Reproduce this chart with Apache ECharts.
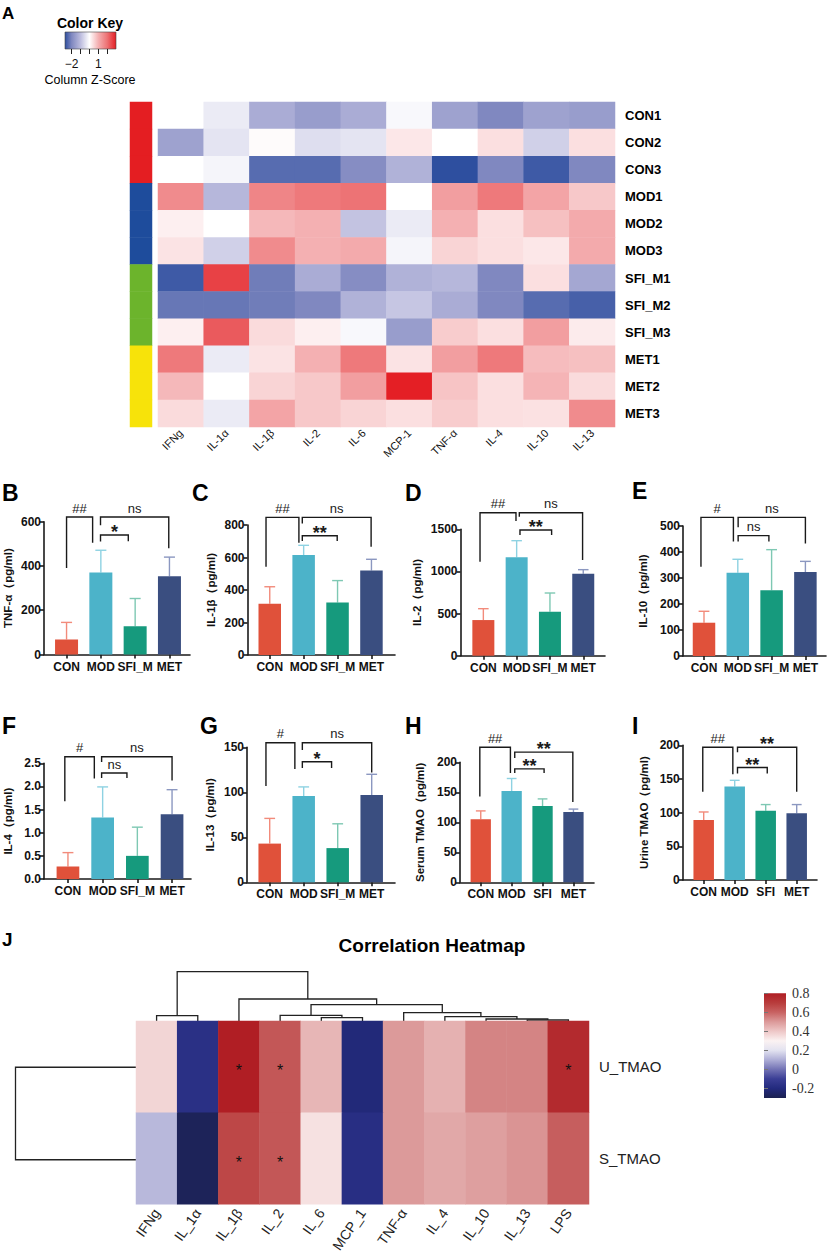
<!DOCTYPE html>
<html>
<head>
<meta charset="utf-8">
<title>Cytokines and TMAO</title>
<script src="https://cdn.jsdelivr.net/npm/echarts@6/dist/echarts.min.js"></script>
<style>
  html, body { margin: 0; padding: 0; background: #fff; }
  #main { width: 830px; height: 1255px; }
</style>
</head>
<body>
<div id="main"></div>
<script>
// ---- A: column z-score heatmap ----
const sampleNames = ['CON1', 'CON2', 'CON3', 'MOD1', 'MOD2', 'MOD3', 'SFI_M1', 'SFI_M2', 'SFI_M3', 'MET1', 'MET2', 'MET3'];
const sampleGroup = [0, 0, 0, 1, 1, 1, 2, 2, 2, 3, 3, 3];
const cytokinesA = ['IFNg', 'IL-1α', 'IL-1β', 'IL-2', 'IL-6', 'MCP-1', 'TNF-α', 'IL-4', 'IL-10', 'IL-13'];
const zScores = [
  [0, -0.3, -1.3, -1.6, -1.3, -0.1, -1.5, -2.0, -1.5, -1.6],
  [-1.5, -0.4, 0.05, -0.5, -0.4, 0.3, 0, 0.4, -0.7, 0.4],
  [0, -0.15, -2.5, -2.5, -1.9, -1.2, -3.0, -2.0, -2.8, -2.0],
  [1.6, -1.1, 1.7, 1.9, 2.0, 0, 1.3, 1.9, 1.2, 0.7],
  [0.2, 0, 0.9, 1.0, -0.9, -0.3, 1.0, 0.4, 0.8, 1.1],
  [0.35, -0.7, 1.6, 1.0, 1.1, -0.15, 0.55, 0.4, 0.3, 1.1],
  [-2.8, 2.6, -2.2, -1.3, -1.9, -1.2, -1.1, -2.0, 0.4, -1.4],
  [-2.3, -2.3, -2.2, -2.0, -1.2, -0.85, -1.3, -2.0, -2.5, -2.7],
  [0.2, 2.3, 0.45, 0.2, -0.1, -1.6, 0.65, 0.4, 1.3, 0.25],
  [1.9, -0.3, 0.35, 1.0, 1.9, 0.35, 1.3, 1.9, 0.85, 0.8],
  [0.9, 0, 0.55, 0.7, 1.3, 3.0, 0.75, 0.4, 0.95, 0.45],
  [0.45, -0.3, 1.2, 0.7, 0.55, 0.4, 0.65, 0.4, 0.38, 1.6]
];
const keyTicks = [-2, -1, 0, 1, 2];
const keyLabels = [-2, 1];

// ---- B-I: bar charts (mean, SD) ----
const groupLabels = ['CON', 'MOD', 'SFI_M', 'MET'];
const tmaoLabels = ['CON', 'MOD', 'SFI', 'MET'];
const tnfMean = [68, 370, 128, 354];
const tnfSd = [77, 101, 125, 86];
const il1bMean = [316, 615, 323, 520];
const il1bSd = [104, 60, 135, 69];
const il2Mean = [423, 1168, 522, 973];
const il2Sd = [135, 197, 222, 48];
const il10Mean = [128, 320, 253, 323];
const il10Sd = [44, 52, 156, 41];
const il4Mean = [0.27, 1.33, 0.50, 1.40];
const il4Sd = [0.30, 0.66, 0.62, 0.53];
const il13Mean = [43, 96, 38, 97];
const il13Sd = [28, 10, 27, 23];
const serumMean = [105, 152, 127, 117];
const serumSd = [14, 21, 12, 5];
const urineMean = [89, 139, 103, 99];
const urineSd = [12, 9, 9, 13];

// brackets: [from, to, top, left end, right end, label]
const tnfBrackets = [[0, 0.76, 621, 391, 505, '##'], [0.99, 2.98, 621, 584, 480, 'ns'], [0.99, 1.8, 540, 510, 512, '*']];
const il1bBrackets = [[-0.11, 0.86, 847, 543, 691, '##'], [0.96, 2.99, 847, 810, 666, 'ns'], [0.96, 1.99, 734, 701, 701, '**']];
const il2Brackets = [[-0.1, 0.98, 1697, 1115, 1598, '##'], [1.08, 2.98, 1697, 1650, 1136, 'ns'], [1.1, 2.05, 1492, 1432, 1432, '**']];
const il10Brackets = [[-0.09, 0.87, 533, 343, 440, '#'], [1.01, 3.0, 533, 495, 433, 'ns'], [1.01, 1.92, 463, 440, 440, 'ns']];
const il4Brackets = [[-0.09, 0.76, 2.64, 1.68, 2.17, '#'], [0.97, 3.0, 2.64, 2.53, 2.13, 'ns'], [0.97, 1.7, 2.29, 2.18, 2.18, 'ns']];
const il13Brackets = [[-0.11, 0.74, 155, 107, 126, '#'], [0.96, 3.0, 155, 147, 122, 'ns'], [0.96, 1.82, 134, 127, 127, '*']];
const serumBrackets = [[-0.03, 0.96, 225, 143, 182, '##'], [1.1, 2.98, 217, 207, 134, '**'], [1.1, 2.05, 189, 182, 182, '**']];
const urineBrackets = [[-0.03, 0.94, 197, 131, 157, '##'], [1.09, 3.0, 197, 189.5, 131, '**'], [1.09, 2.05, 167, 158, 158, '**']];

// ---- J: correlation heatmap ----
const corrCols = ['IFNg', 'IL_1α', 'IL_1β', 'IL_2', 'IL_6', 'MCP_1', 'TNF-α', 'IL_4', 'IL_10', 'IL_13', 'LPS'];
const corrRows = ['U_TMAO', 'S_TMAO'];
const corrU = [0.37, -0.17, 0.8, 0.63, 0.44, -0.21, 0.5, 0.45, 0.54, 0.54, 0.76];
const corrS = [0.12, -0.28, 0.67, 0.63, 0.34, -0.18, 0.5, 0.47, 0.49, 0.51, 0.61];
const starsU = [0, 0, 1, 1, 0, 0, 0, 0, 0, 0, 1];
const starsS = [0, 0, 1, 1, 0, 0, 0, 0, 0, 0, 0];
// dendrogram merges: [a, b, height], a/b >= 0 leaf, < 0 earlier merge -(k+1)
const corrColMerges = [[0, 1, 5.3], [4, 5, 3.3], [3, -2, 5.7], [9, 10, 1.0], [8, -4, 2.0], [7, -5, 4.3], [6, -6, 8.3], [-3, -7, 16.3], [2, -8, 22], [-1, -9, 49.3]];
const corrRowMerges = [[0, 1, 120.5]];
const corrTicks = [-0.2, 0, 0.2, 0.4, 0.6, 0.8];

const FONT = '"Liberation Sans", Arial, sans-serif';
const zColors = ['#2e4f9f', '#8088c0', '#bcbcde', '#ffffff', '#f4b0b2', '#ed7375', '#e41f25'];
const groupColors = ['#e41e22', '#1e4c9c', '#6cb42c', '#f7e30a'];
const corrColors = ['#1b2150', '#232a7e', '#3a3e95', '#7272b4', '#adadd6', '#e2e2f0', '#fbf2f2', '#eec8c8', '#dc9a9a', '#c86262', '#b83c3c', '#b01e24'];
const barColors = ['#e0513a', '#4cb3c9', '#169a7d', '#3a4e80'];
const errColors = ['#f28b7b', '#8ed2e2', '#7ec8b3', '#8b97c0'];
const ink = '#1a1a1a';

const grids = [], xAxes = [], yAxes = [], series = [], visualMaps = [], graphics = [];

function addGrid(g, xa, ya) {
  grids.push(g);
  const gi = grids.length - 1;
  xAxes.push(Object.assign({ gridIndex: gi }, xa));
  yAxes.push(Object.assign({ gridIndex: gi }, ya));
  return xAxes.length - 1;
}
function text(x, y, str, style) {
  graphics.push({ type: 'text', x: x, y: y, silent: true,
    style: Object.assign({ text: str, fontFamily: FONT, fill: '#000', align: 'left', verticalAlign: 'middle' }, style) });
}
const hidden = { show: false };

// ---------- A ----------
let ax = addGrid({ left: 158, top: 102, width: 457, height: 325 },
  { type: 'category', data: cytokinesA, axisLine: hidden, axisTick: hidden,
    axisLabel: { rotate: 45, interval: 0, fontSize: 11, color: '#111', margin: 4 } },
  { type: 'category', data: sampleNames, inverse: true, position: 'right', axisLine: hidden, axisTick: hidden,
    axisLabel: { fontWeight: 'bold', fontSize: 13, color: '#000', margin: 10 } });
const dataA = [];
zScores.forEach((row, r) => row.forEach((z, c) => dataA.push([c, r, z])));
series.push({ type: 'heatmap', xAxisIndex: ax, yAxisIndex: ax, data: dataA, silent: true });
visualMaps.push({ type: 'continuous', show: false, seriesIndex: series.length - 1, min: -3, max: 3, inRange: { color: zColors } });

ax = addGrid({ left: 130, top: 102, width: 22, height: 325 },
  { type: 'category', data: ['group'], show: false },
  { type: 'category', data: sampleNames, inverse: true, show: false });
series.push({ type: 'heatmap', xAxisIndex: ax, yAxisIndex: ax, silent: true,
  data: sampleGroup.map((g, r) => [0, r, g]) });
visualMaps.push({ type: 'piecewise', show: false, seriesIndex: series.length - 1,
  pieces: groupColors.map((c, i) => ({ value: i, color: c })) });

// colour key
addGrid({ left: 65, top: 32, width: 51, height: 17 },
  { type: 'value', min: -2.75, max: 3, axisLine: hidden, splitLine: hidden,
    axisTick: { show: true, customValues: keyTicks, length: 5, lineStyle: { color: '#222', width: 1 } },
    axisLabel: { customValues: keyLabels, fontSize: 12, color: '#111', margin: 9,
      formatter: v => (v < 0 ? '\u2212' + Math.abs(v) : String(v)) } },
  { type: 'value', min: 0, max: 1, show: false });
graphics.push({ type: 'rect', silent: true, shape: { x: 65, y: 32, width: 51, height: 17 },
  style: { stroke: '#444', lineWidth: 0.6,
    fill: new echarts.graphic.LinearGradient(0, 0, 1, 0,
      zColors.map((c, k) => ({ offset: Math.min(1, Math.max(0, (k - 3 + 2.75) / 5.75)), color: c }))) } });
text(90, 23, 'Color Key', { fontSize: 14, fontWeight: 'bold', align: 'center' });
text(90, 80, 'Column Z-Score', { fontSize: 12.5, align: 'center' });
text(2, 13, 'A', { fontSize: 17, fontWeight: 'bold' });

// ---------- B-I ----------
function errRenderer(capW) {
  return function (params, api) {
    const i = api.value(0);
    const b = api.coord([i, api.value(1)]);
    const t = api.coord([i, api.value(1) + api.value(2)]);
    const st = { stroke: errColors[i], lineWidth: 1.4 };
    return { type: 'group', children: [
      { type: 'line', shape: { x1: b[0], y1: b[1], x2: t[0], y2: t[1] }, style: st },
      { type: 'line', shape: { x1: t[0] - capW / 2, y1: t[1], x2: t[0] + capW / 2, y2: t[1] }, style: st }
    ] };
  };
}
function bracketRenderer(list) {
  return function (params, api) {
    const b = list[params.dataIndex];
    const c0 = api.coord([0, 0]), c1 = api.coord([1, 0]);
    const X = v => c0[0] + v * (c1[0] - c0[0]);
    const Y = v => api.coord([0, v])[1];
    const xa = X(b[0]), xb = X(b[1]), yt = Y(b[2]);
    const star = b[5].indexOf('*') >= 0;
    return { type: 'group', children: [
      { type: 'polyline', shape: { points: [[xa, Y(b[3])], [xa, yt], [xb, yt], [xb, Y(b[4])]] },
        style: { stroke: ink, lineWidth: 1.4, fill: null } },
      { type: 'text', x: (xa + xb) / 2, y: yt - (star ? 3 : 9),
        style: { text: b[5], fontFamily: FONT, fontSize: star ? 18 : 13, fontWeight: star ? 'bold' : 'normal',
          fill: ink, align: 'center', verticalAlign: 'middle' } }
    ] };
  };
}

const panels = [
  { letter: 'B', name: 'TNF-α\uff08pg/ml)', cats: groupLabels, mean: tnfMean, sd: tnfSd, max: 600, step: 200, brackets: tnfBrackets },
  { letter: 'C', name: 'IL-1β\uff08pg/ml)', cats: groupLabels, mean: il1bMean, sd: il1bSd, max: 800, step: 200, brackets: il1bBrackets },
  { letter: 'D', name: 'IL-2\uff08pg/ml)', cats: groupLabels, mean: il2Mean, sd: il2Sd, max: 1500, step: 500, brackets: il2Brackets },
  { letter: 'E', name: 'IL-10\uff08pg/ml)', cats: groupLabels, mean: il10Mean, sd: il10Sd, max: 500, step: 100, brackets: il10Brackets },
  { letter: 'F', name: 'IL-4\uff08pg/ml)', cats: groupLabels, mean: il4Mean, sd: il4Sd, max: 2.5, step: 0.5, brackets: il4Brackets, dec: 1 },
  { letter: 'G', name: 'IL-13\uff08pg/ml)', cats: groupLabels, mean: il13Mean, sd: il13Sd, max: 150, step: 50, brackets: il13Brackets },
  { letter: 'H', name: 'Serum TMAO\uff08pg/ml)', cats: tmaoLabels, mean: serumMean, sd: serumSd, max: 200, step: 50, brackets: serumBrackets },
  { letter: 'I', name: 'Urine TMAO\uff08pg/ml)', cats: tmaoLabels, mean: urineMean, sd: urineSd, max: 200, step: 50, brackets: urineBrackets }
];
// pixel layout of each panel
const layouts = {
  B: { axisX: 44, top: 521.7, zero: 654.5, catStart: 49.4, catW: 34.3, xEnd: 190, barW: 23, nameGap: 30, lx: 2, ly: 493 },
  C: { axisX: 247.5, top: 525, zero: 655, catStart: 252.8, catW: 33.9, xEnd: 395, barW: 22.5, nameGap: 31, lx: 192, ly: 493 },
  D: { axisX: 460.5, top: 529.3, zero: 655.7, catStart: 466.7, catW: 33.3, xEnd: 605, barW: 22, nameGap: 38, lx: 405, ly: 493 },
  E: { axisX: 683, top: 526, zero: 656, catStart: 687.1, catW: 33.8, xEnd: 826, barW: 22.5, nameGap: 34, lx: 632, ly: 491 },
  F: { axisX: 44, top: 763.3, zero: 879, catStart: 50.6, catW: 34.7, xEnd: 191, barW: 22.7, nameGap: 30, lx: 2, ly: 726 },
  G: { axisX: 247, top: 747.3, zero: 882.3, catStart: 252.7, catW: 34, xEnd: 395, barW: 22.5, nameGap: 31, lx: 200, ly: 726 },
  H: { axisX: 460, top: 762.3, zero: 882.3, catStart: 465.3, catW: 30.9, xEnd: 594, barW: 20.3, nameGap: 34, lx: 405, ly: 726 },
  I: { axisX: 682.7, top: 745.3, zero: 880, catStart: 688.2, catW: 31, xEnd: 817, barW: 20.5, nameGap: 33, lx: 632, ly: 726 }
};

const axisLineStyle = { color: ink, width: 1.6 };
const boldLabel = { fontWeight: 'bold', fontSize: 12, color: '#111' };

panels.forEach(p => {
  const L = layouts[p.letter];
  const h = L.zero - L.top;
  // frame: y axis with ticks and full-width x axis line
  addGrid({ left: L.axisX, top: L.top, width: L.xEnd - L.axisX, height: h },
    { type: 'value', min: 0, max: 1, axisLine: { show: true, lineStyle: axisLineStyle },
      axisTick: hidden, axisLabel: hidden, splitLine: hidden },
    { type: 'value', min: 0, max: p.max, interval: p.step,
      axisLine: { show: true, lineStyle: axisLineStyle },
      axisTick: { show: true, length: 4, lineStyle: axisLineStyle },
      axisLabel: Object.assign({ margin: 3, formatter: v => (p.dec ? v.toFixed(p.dec) : String(v)) }, boldLabel),
      splitLine: hidden,
      name: p.name, nameLocation: 'middle', nameGap: L.nameGap,
      nameTextStyle: { fontWeight: 'bold', fontSize: 11.5, color: '#111', fontFamily: FONT } });
  // plot area: categories, bars, error bars, brackets
  const pa = addGrid({ left: L.catStart, top: L.top, width: L.catW * 4, height: h },
    { type: 'category', data: p.cats, axisLine: hidden,
      axisTick: { show: true, alignWithLabel: true, length: 4, lineStyle: axisLineStyle },
      axisLabel: Object.assign({ margin: 6, interval: 0 }, boldLabel) },
    { type: 'value', min: 0, max: p.max, show: false });
  series.push({ type: 'bar', xAxisIndex: pa, yAxisIndex: pa, barWidth: L.barW, silent: true, z: 3,
    data: p.mean.map((v, i) => ({ value: v, itemStyle: { color: barColors[i] } })) });
  series.push({ type: 'custom', xAxisIndex: pa, yAxisIndex: pa, silent: true, z: 2,
    renderItem: errRenderer(L.barW * 0.48),
    data: p.mean.map((m, i) => [i, m, p.sd[i]]) });
  series.push({ type: 'custom', xAxisIndex: pa, yAxisIndex: pa, silent: true, z: 4,
    renderItem: bracketRenderer(p.brackets),
    data: p.brackets.map(b => [0, b[2]]) });
  text(L.lx, L.ly, p.letter, { fontSize: 23, fontWeight: 'bold' });
});

// ---------- J ----------
function dendroSegments(merges) {
  const nodes = [];
  const get = k => (k >= 0 ? { pos: k, h: 0 } : nodes[-k - 1]);
  return merges.map(m => {
    const a = get(m[0]), b = get(m[1]), hh = m[2];
    nodes.push({ pos: (a.pos + b.pos) / 2, h: hh });
    return [[a.pos, a.h], [a.pos, hh], [b.pos, hh], [b.pos, b.h]];
  });
}
const dendroStyle = { color: '#222', width: 1.3, opacity: 1 };

ax = addGrid({ left: 136, top: 960, width: 453, height: 61 },
  { type: 'value', min: -0.5, max: corrCols.length - 0.5, show: false },
  { type: 'value', min: 0, max: 61, show: false });
series.push({ type: 'lines', coordinateSystem: 'cartesian2d', xAxisIndex: ax, yAxisIndex: ax, polyline: true, silent: true,
  lineStyle: dendroStyle, data: dendroSegments(corrColMerges).map(c => ({ coords: c })) });

ax = addGrid({ left: 15, top: 1021, width: 121, height: 185 },
  { type: 'value', min: 0, max: 121, inverse: true, show: false },
  { type: 'value', min: -0.5, max: 1.5, inverse: true, show: false });
series.push({ type: 'lines', coordinateSystem: 'cartesian2d', xAxisIndex: ax, yAxisIndex: ax, polyline: true, silent: true,
  lineStyle: dendroStyle,
  data: dendroSegments(corrRowMerges).map(c => ({ coords: c.map(pt => [pt[1], pt[0]]) })) });

ax = addGrid({ left: 136, top: 1021, width: 453, height: 185 },
  { type: 'category', data: corrCols, axisLine: hidden, axisTick: hidden,
    axisLabel: { rotate: 55, interval: 0, fontSize: 14, color: '#222', margin: 6 } },
  { type: 'category', data: corrRows, inverse: true, position: 'right', axisLine: hidden, axisTick: hidden,
    axisLabel: { fontSize: 15, color: '#222', margin: 10 } });
const corrStars = [starsU, starsS];
const dataJ = [];
[corrU, corrS].forEach((row, r) => row.forEach((v, c) => dataJ.push([c, r, v])));
series.push({ type: 'heatmap', xAxisIndex: ax, yAxisIndex: ax, data: dataJ, silent: true,
  label: { show: true, fontSize: 16, color: '#111', offset: [0, 4],
    formatter: pr => (corrStars[pr.data[1]][pr.data[0]] ? '*' : '') } });
visualMaps.push({ type: 'continuous', show: false, seriesIndex: series.length - 1, min: -0.3, max: 0.8, inRange: { color: corrColors } });

// correlation colour bar
addGrid({ left: 764, top: 993.3, width: 22, height: 104.7 },
  { type: 'value', min: 0, max: 1, show: false },
  { type: 'value', min: -0.3, max: 0.8, position: 'right', axisLine: hidden, splitLine: hidden,
    axisTick: { show: true, customValues: corrTicks, length: 4, lineStyle: { color: '#777', width: 1 } },
    axisLabel: { customValues: corrTicks, fontFamily: '"Liberation Serif", "DejaVu Serif", serif', fontSize: 14, color: '#333', margin: 6,
      formatter: v => String(Math.round(v * 10) / 10) } });
graphics.push({ type: 'rect', silent: true, shape: { x: 764, y: 993.3, width: 22, height: 104.7 },
  style: { fill: new echarts.graphic.LinearGradient(0, 1, 0, 0,
    corrColors.map((c, k) => ({ offset: k / (corrColors.length - 1), color: c }))) } });

text(2, 939, 'J', { fontSize: 19, fontWeight: 'bold' });
text(432, 945, 'Correlation Heatmap', { fontSize: 19, fontWeight: 'bold', align: 'center' });

const chart = echarts.init(document.getElementById('main'), null, { renderer: 'svg' });
chart.setOption({
  animation: false,
  backgroundColor: '#fff',
  textStyle: { fontFamily: FONT },
  grid: grids,
  xAxis: xAxes,
  yAxis: yAxes,
  visualMap: visualMaps,
  series: series,
  graphic: { elements: graphics }
});
</script>
</body>
</html>
